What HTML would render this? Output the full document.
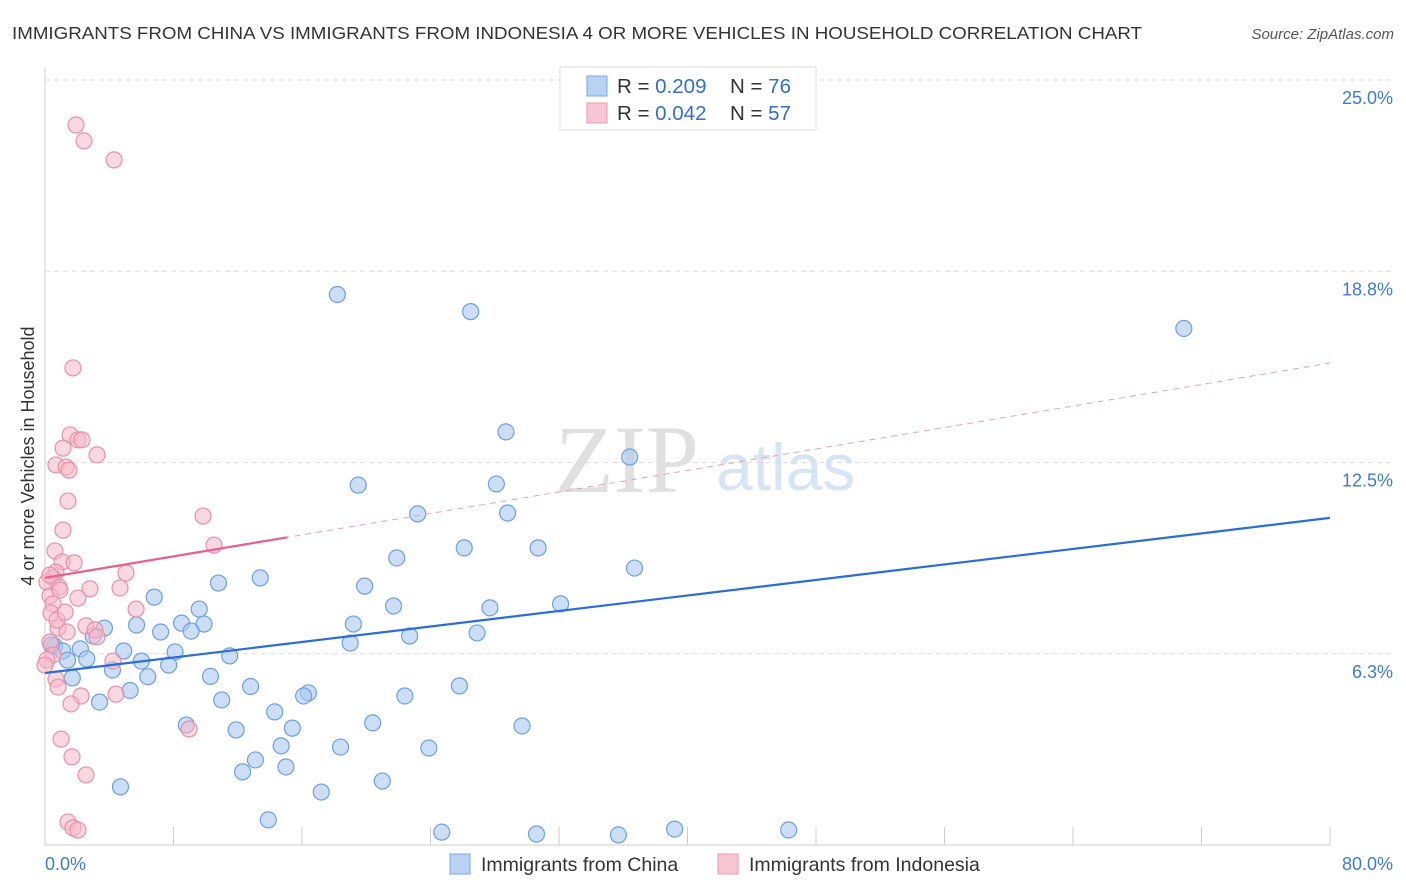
<!DOCTYPE html>
<html><head><meta charset="utf-8"><style>
body{margin:0;background:#fff;font-family:"Liberation Sans",sans-serif}
svg{display:block}
</style></head><body>
<svg id="chart" width="1406" height="892">
<text x="12" y="39" font-size="17.5" fill="#333" textLength="1130" lengthAdjust="spacingAndGlyphs">IMMIGRANTS FROM CHINA VS IMMIGRANTS FROM INDONESIA 4 OR MORE VEHICLES IN HOUSEHOLD CORRELATION CHART</text>
<text x="1394" y="39" font-size="15" fill="#555" font-style="italic" text-anchor="end">Source: ZipAtlas.com</text>
<text x="555" y="492" font-size="96" fill="#e0e0e0" font-family="Liberation Serif,serif">ZIP</text>
<text x="716" y="490" font-size="66" fill="#d6e4f5">atlas</text>
<text transform="translate(34,456) rotate(-90)" font-size="18" fill="#333" text-anchor="middle">4 or more Vehicles in Household</text>
<g id="grid"></g><g id="axes"></g><g id="pts"></g><g id="lines"></g>
<g>
<rect x="560" y="67" width="256" height="63" fill="#fff" stroke="#ddd"/>
<rect x="587" y="76" width="20" height="20" fill="#b8d2f4" stroke="#7aa8e4"/>
<rect x="587" y="103" width="20" height="20" fill="#f8c6d4" stroke="#eb98b2"/>
<text x="617" y="93" font-size="20.5" fill="#333">R = <tspan fill="#2f6fd0">0.209</tspan></text>
<text x="730" y="93" font-size="20.5" fill="#333">N = <tspan fill="#2f6fd0">76</tspan></text>
<text x="617" y="120" font-size="20.5" fill="#333">R = <tspan fill="#2f6fd0">0.042</tspan></text>
<text x="730" y="120" font-size="20.5" fill="#333">N = <tspan fill="#2f6fd0">57</tspan></text>
</g>
<g>
<rect x="450" y="854" width="20" height="20" fill="#b8d2f4" stroke="#7aa8e4"/>
<text x="481" y="871" font-size="19.5" fill="#333">Immigrants from China</text>
<rect x="718" y="854" width="20" height="20" fill="#f8c6d4" stroke="#eb98b2"/>
<text x="749" y="871" font-size="19.5" fill="#333">Immigrants from Indonesia</text>
</g>
</svg>
<script>
const yTicks=[6.25,12.5,18.75,25];
const yTickLabels=["6.3%","12.5%","18.8%","25.0%"];
const xTickVals=[0,8,16,24,32,40,48,56,64,72,80];
const xEndLabels=["0.0%","80.0%"];
const chinaX=[18.2,26.5,70.9,28.7,36.4,19.5,28.1,23.2,28.8,26.1,30.7,21.9,36.7,13.4,10.8,19.9,6.8,21.7,27.7,32.1,9.6,3.7,5.7,8.5,9.9,7.2,9.1,19.2,3.0,26.9,22.7,19.0,4.9,8.1,2.2,0.6,1.1,2.6,6.0,7.7,11.5,4.2,1.4,6.4,1.7,10.3,12.8,5.3,16.4,16.1,25.8,22.4,11.0,3.4,14.3,8.8,20.4,29.7,11.9,15.4,18.4,23.9,14.7,13.1,12.3,15.0,21.0,4.7,17.2,13.9,24.7,30.6,35.7,39.2,46.3,0.4];
const chinaY=[17.99,17.43,16.88,13.50,12.68,11.76,11.80,10.82,10.85,9.71,9.71,9.38,9.05,8.73,8.56,8.46,8.10,7.81,7.75,7.88,7.71,7.09,7.19,7.25,7.22,6.96,6.99,7.22,6.83,6.93,6.83,6.60,6.34,6.31,6.41,6.50,6.34,6.08,6.01,5.88,6.18,5.72,6.04,5.50,5.46,5.51,5.18,5.05,4.97,4.87,5.20,4.87,4.74,4.67,4.35,3.92,3.99,3.89,3.76,3.82,3.20,3.17,3.24,2.78,2.39,2.55,2.09,1.90,1.73,0.82,0.42,0.36,0.33,0.52,0.49,6.54];
const indoX=[1.93,2.43,4.30,1.74,1.56,2.05,2.30,0.68,1.31,1.49,3.24,1.12,1.43,1.12,9.84,10.52,0.62,1.06,1.81,0.68,5.04,0.50,0.12,0.87,2.80,4.67,0.31,2.05,0.50,5.67,0.37,2.55,0.81,3.11,1.37,3.24,0.31,0.50,0.12,4.23,0.68,0.81,2.24,4.42,1.62,8.97,1.00,1.68,2.55,1.43,1.74,2.05,0.31,0.75,0.0,0.93,1.25];
const indoY=[23.53,23.01,22.39,15.59,13.40,13.24,13.24,12.42,12.35,12.25,12.75,12.97,11.24,10.29,10.75,9.80,9.61,9.25,9.22,8.92,8.89,8.73,8.59,8.43,8.37,8.40,8.14,8.07,7.88,7.71,7.58,7.16,7.09,7.03,6.96,6.80,6.63,6.21,6.05,6.01,5.42,5.16,4.87,4.93,4.61,3.79,3.46,2.88,2.29,0.75,0.56,0.49,8.82,7.35,5.88,8.33,7.61];
const chinaTrend=[5.62,10.69];
const indoTrend=[8.73,15.75];
const indoSolidEnd=15.1;

const NS="http://www.w3.org/2000/svg";
const X=v=>45+v/80*1285;
const Y=v=>845-v*30.6;
function mk(tag,attrs,parent){const e=document.createElementNS(NS,tag);for(const k in attrs)e.setAttribute(k,attrs[k]);document.getElementById(parent).appendChild(e);return e;}
yTicks.forEach((t,i)=>{
  const l=mk('line',{x1:45,x2:1393,y1:Y(t),y2:Y(t),stroke:'#ddd','stroke-dasharray':'5,4'},'grid');
  
  
  const tx=mk('text',{x:1393,y:Y(t)+24,'font-size':18,fill:'#3d7bd6','text-anchor':'end'},'grid');
  tx.textContent=yTickLabels[i];
  
  
});
const ya=mk('line',{x1:45,x2:45,y1:68,y2:845,stroke:'#ccc'},'axes');


const xa=mk('line',{x1:45,x2:1330,y1:845,y2:845,stroke:'#ccc'},'axes');


xTickVals.forEach(t=>{
  const l=mk('line',{x1:X(t),x2:X(t),y1:827,y2:845,stroke:'#ccc'},'axes');
  
  
});
const xl0=mk('text',{x:45,y:870,'font-size':18,fill:'#3d7bd6'},'axes');
xl0.textContent=xEndLabels[0];


const xl1=mk('text',{x:1393,y:870,'font-size':18,fill:'#3d7bd6','text-anchor':'end'},'axes');
xl1.textContent=xEndLabels[1];



chinaX.forEach((x,i)=>{
  const c=mk('circle',{cx:X(x),cy:Y(chinaY[i]),r:8,fill:'rgba(168,200,240,0.6)',stroke:'#6e9fe0','stroke-width':1.2},'pts');
  
  
});
indoX.forEach((x,i)=>{
  const c=mk('circle',{cx:X(x),cy:Y(indoY[i]),r:8,fill:'rgba(245,184,200,0.55)',stroke:'#e890a8','stroke-width':1.2},'pts');
  
  
});
const bl=mk('line',{x1:X(0),y1:Y(chinaTrend[0]),x2:X(80),y2:Y(chinaTrend[1]),stroke:'#2a6dd9','stroke-width':2.2},'lines');


const pd=mk('line',{x1:X(0),y1:Y(indoTrend[0]),x2:X(80),y2:Y(indoTrend[1]),stroke:'#e8a0b4','stroke-width':1,'stroke-dasharray':'6,5'},'lines');


const ps=mk('line',{x1:X(0),y1:Y(indoTrend[0]),x2:X(indoSolidEnd),y2:Y(indoTrend[0]+(indoTrend[1]-indoTrend[0])*indoSolidEnd/80),stroke:'#e8608a','stroke-width':2.2},'lines');


</script>
</body></html>
